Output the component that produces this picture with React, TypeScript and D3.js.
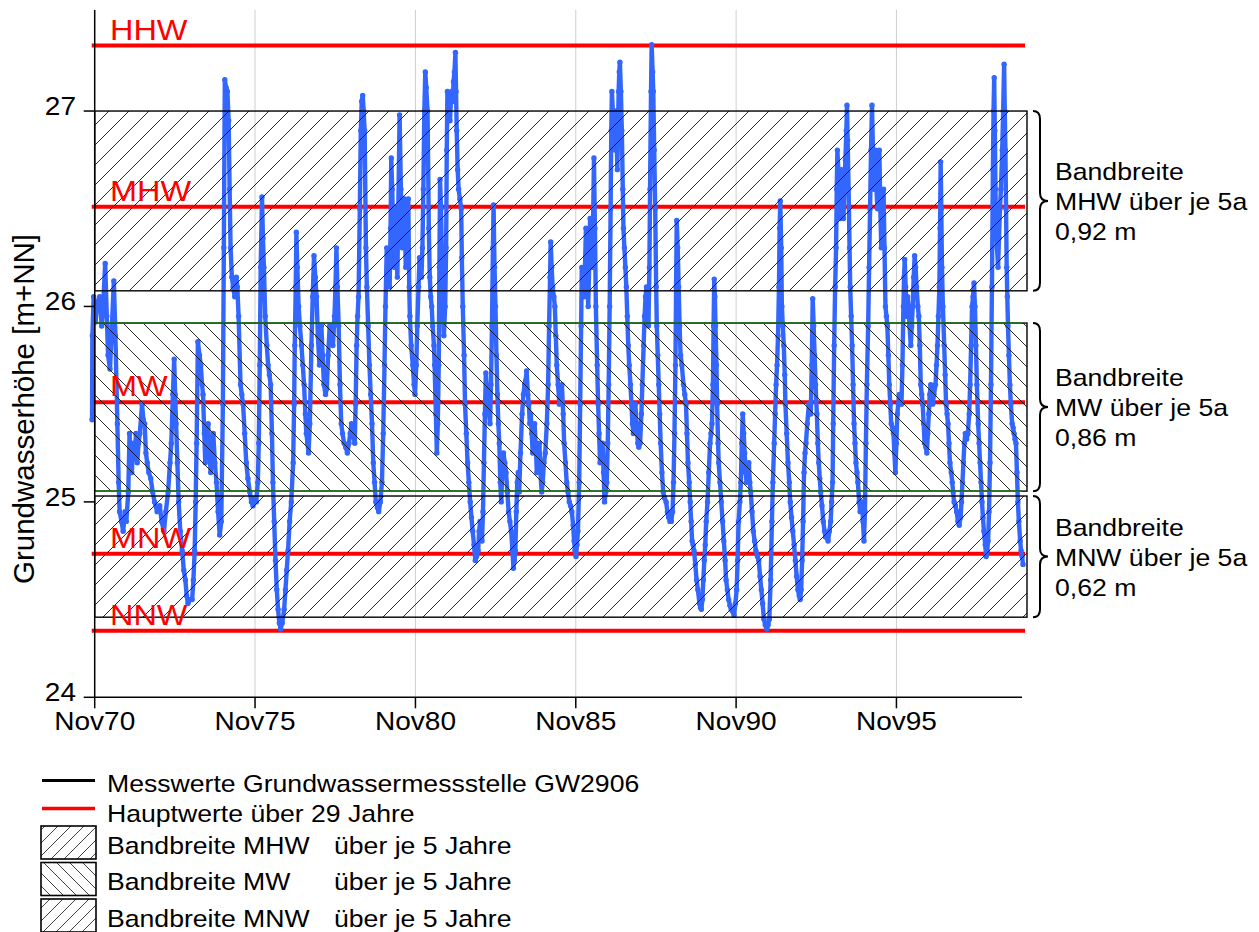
import React from 'react';
import * as d3 from 'd3';

// ---------- data ----------
const yTickValues = [24, 25, 26, 27];
const xTickYears = [1970, 1975, 1980, 1985, 1990, 1995];
const domainStart = [1970, 10, 1];
const domainEnd = [1999, 9, 1];
const yDomain = [24, 27.517];

const mainValueNames = ['HHW', 'MHW', 'MW', 'MNW', 'NNW'];
const mainValueLevels = [27.335, 26.51, 25.51, 24.735, 24.34];

const bandNames = ['MHW', 'MW', 'MNW'];
const bandLow = [26.08, 25.055, 24.41];
const bandHigh = [27.0, 25.915, 25.03];
const bandWidthLabels = ['0,92 m', '0,86 m', '0,62 m'];

const legendLineLabels = ['Messwerte Grundwassermessstelle GW2906', 'Hauptwerte über 29 Jahre'];
const legendBandLabels = ['Bandbreite MHW', 'Bandbreite MW', 'Bandbreite MNW'];
const legendBandSuffix = 'über je 5 Jahre';
const yTitle = 'Grundwasserhöhe [m+NN]';

// measurements GW2906: [decimal year, level m+NN]
const gw1970s: [number, number][] = [
  [1970.75,25.42],[1970.76,25.85],[1970.80,26.05],[1970.86,25.92],[1970.91,26.02],[1970.99,26.05],[1971.05,25.9],[1971.09,25.98],[1971.16,26.22],[1971.21,25.95],[1971.25,25.75],[1971.31,25.68],[1971.37,25.9],[1971.43,26.13],[1971.48,25.85],[1971.54,25.4],[1971.58,25.1],[1971.61,24.95],[1971.67,24.9],[1971.72,24.85],[1971.78,24.95],[1971.82,24.9],[1971.88,25.05],[1971.92,25.35],[1971.96,25.2],[1971.99,25.15],
  [1972.04,25.3],[1972.08,25.22],[1972.12,25.35],[1972.16,25.2],[1972.20,25.3],[1972.24,25.35],[1972.31,25.5],[1972.35,25.42],[1972.39,25.4],[1972.43,25.25],[1972.47,25.2],[1972.52,25.15],[1972.58,25.12],[1972.64,25.05],[1972.70,25.0],[1972.78,24.95],[1972.86,24.98],[1972.92,24.9],[1972.99,24.85],
  [1973.05,24.95],[1973.12,25.05],[1973.18,25.2],[1973.22,25.3],[1973.27,25.55],[1973.31,25.73],[1973.34,25.55],[1973.37,25.4],[1973.41,25.2],[1973.45,25.0],[1973.50,24.85],[1973.56,24.75],[1973.61,24.65],[1973.66,24.6],[1973.70,24.52],[1973.74,24.48],[1973.80,24.5],[1973.87,24.5],[1973.91,24.6],[1973.95,24.75],[1973.98,25.0],
  [1974.01,25.3],[1974.05,25.82],[1974.10,25.75],[1974.14,25.7],[1974.18,25.6],[1974.21,25.55],[1974.25,25.35],[1974.28,25.2],[1974.32,25.35],[1974.37,25.4],[1974.41,25.25],[1974.45,25.15],[1974.49,25.3],[1974.53,25.35],[1974.58,25.2],[1974.63,25.1],[1974.68,24.95],[1974.73,24.83],[1974.78,24.9],[1974.83,25.5],[1974.86,26.3],[1974.89,27.16],[1974.93,27.12],[1974.97,27.1],
  [1975.01,26.95],[1975.04,26.6],[1975.07,26.3],[1975.11,26.15],[1975.15,26.1],[1975.20,26.05],[1975.25,26.15],[1975.28,26.1],[1975.32,25.95],[1975.38,25.6],[1975.42,25.55],[1975.46,25.5],[1975.51,25.35],[1975.56,25.2],[1975.61,25.12],[1975.67,25.05],[1975.72,25.0],[1975.77,24.98],[1975.82,25.02],[1975.87,25.0],[1975.92,25.1],[1975.95,25.3],[1975.98,25.7],
  [1976.01,26.2],[1976.05,26.56],[1976.08,26.35],[1976.11,26.2],[1976.15,25.95],[1976.20,25.8],[1976.24,25.7],[1976.28,25.65],[1976.32,25.6],[1976.36,25.35],[1976.39,25.1],[1976.43,24.9],[1976.47,24.7],[1976.51,24.55],[1976.55,24.45],[1976.59,24.38],[1976.63,24.35],[1976.68,24.38],[1976.74,24.45],[1976.78,24.55],[1976.82,24.65],[1976.86,24.75],[1976.91,24.9],[1976.96,25.0],
  [1977.02,25.2],[1977.05,25.5],[1977.07,25.8],[1977.10,26.1],[1977.12,26.38],[1977.15,26.2],[1977.19,26.0],[1977.23,25.9],[1977.28,25.8],[1977.32,25.7],[1977.36,25.6],[1977.40,25.45],[1977.43,25.35],[1977.47,25.3],[1977.50,25.25],[1977.54,25.4],[1977.59,25.8],[1977.63,26.05],[1977.67,26.26],[1977.71,26.15],[1977.75,26.05],[1977.79,25.85],[1977.84,25.7],[1977.87,25.8],[1977.90,25.9],[1977.94,25.75],[1977.98,25.6],
  [1978.03,25.55],[1978.07,25.58],[1978.11,25.75],[1978.16,25.9],[1978.21,25.85],[1978.26,25.8],[1978.31,25.95],[1978.34,26.1],[1978.37,26.3],[1978.40,26.1],[1978.44,25.9],[1978.48,25.6],[1978.52,25.4],[1978.56,25.35],[1978.61,25.3],[1978.66,25.28],[1978.71,25.25],[1978.76,25.3],[1978.80,25.35],[1978.84,25.4],[1978.89,25.35],[1978.94,25.3],[1978.97,25.5],
  [1979.00,25.8],[1979.03,25.95],[1979.06,26.05],[1979.10,26.5],[1979.13,26.9],[1979.16,27.05],[1979.19,27.08],[1979.22,27.0],[1979.25,26.9],[1979.29,26.3],[1979.32,26.1],[1979.36,25.9],[1979.40,25.7],[1979.44,25.55],[1979.48,25.4],[1979.52,25.2],[1979.56,25.1],[1979.60,25.0],[1979.65,24.97],[1979.69,24.95],[1979.74,25.0],[1979.79,25.1],[1979.83,25.35],[1979.87,25.7],[1979.90,26.0],[1979.94,26.3],[1979.98,26.15],
];

const gw1980s: [number, number][] = [
  [1980.03,26.1],[1980.06,26.4],[1980.08,26.76],[1980.11,26.6],[1980.14,26.4],[1980.17,26.2],[1980.21,26.5],[1980.24,26.35],[1980.27,26.15],[1980.30,26.5],[1980.34,26.98],[1980.38,26.6],[1980.42,26.3],[1980.46,26.45],[1980.50,26.55],[1980.53,26.2],[1980.57,26.35],[1980.61,26.55],[1980.64,26.1],[1980.66,25.95],[1980.70,25.8],[1980.75,25.7],[1980.79,25.6],[1980.82,25.55],[1980.86,25.7],[1980.89,25.9],[1980.93,26.1],[1980.96,26.25],
  [1981.00,26.2],[1981.02,26.15],[1981.05,26.3],[1981.08,26.6],[1981.11,27.0],[1981.14,27.2],[1981.17,27.12],[1981.21,27.0],[1981.25,26.4],[1981.28,26.15],[1981.31,26.05],[1981.34,26.0],[1981.37,25.9],[1981.41,25.8],[1981.43,25.7],[1981.47,25.45],[1981.50,25.25],[1981.53,25.4],[1981.56,25.7],[1981.58,26.2],[1981.60,26.65],[1981.63,26.5],[1981.66,26.25],[1981.69,26.0],[1981.72,25.85],[1981.76,26.0],[1981.79,26.3],[1981.81,26.8],[1981.83,27.1],[1981.87,27.0],[1981.91,26.95],[1981.94,27.05],[1981.96,27.1],
  [1982.00,27.05],[1982.02,27.15],[1982.05,27.2],[1982.08,27.3],[1982.10,27.1],[1982.12,26.9],[1982.15,26.7],[1982.18,26.6],[1982.22,26.55],[1982.26,26.5],[1982.28,26.25],[1982.31,26.0],[1982.35,25.75],[1982.38,25.5],[1982.42,25.35],[1982.46,25.2],[1982.50,25.1],[1982.54,25.0],[1982.58,24.92],[1982.62,24.85],[1982.66,24.78],[1982.70,24.7],[1982.74,24.72],[1982.79,24.75],[1982.82,24.85],[1982.85,24.9],[1982.88,24.85],[1982.91,24.8],[1982.94,24.95],[1982.97,25.2],
  [1983.00,25.45],[1983.03,25.66],[1983.07,25.55],[1983.10,25.5],[1983.13,25.45],[1983.16,25.4],[1983.19,25.6],[1983.22,25.9],[1983.25,26.3],[1983.27,26.52],[1983.30,26.2],[1983.33,26.0],[1983.36,25.75],[1983.39,25.55],[1983.42,25.4],[1983.45,25.3],[1983.48,25.1],[1983.51,25.0],[1983.54,25.15],[1983.58,25.25],[1983.62,25.2],[1983.66,25.15],[1983.70,25.05],[1983.74,24.95],[1983.78,24.9],[1983.82,24.85],[1983.86,24.75],[1983.89,24.66],[1983.92,24.7],[1983.95,24.75],[1983.98,24.95],
  [1984.01,25.1],[1984.04,25.15],[1984.07,25.05],[1984.11,25.25],[1984.16,25.45],[1984.20,25.55],[1984.24,25.6],[1984.27,25.62],[1984.30,25.67],[1984.34,25.55],[1984.37,25.5],[1984.40,25.4],[1984.43,25.45],[1984.46,25.35],[1984.49,25.25],[1984.52,25.3],[1984.55,25.4],[1984.58,25.3],[1984.62,25.15],[1984.66,25.2],[1984.70,25.3],[1984.73,25.15],[1984.77,25.05],[1984.80,25.1],[1984.84,25.2],[1984.88,25.25],[1984.93,25.4],[1984.97,25.6],
  [1985.00,25.9],[1985.03,26.15],[1985.05,26.33],[1985.08,26.2],[1985.11,26.1],[1985.15,26.05],[1985.18,26.0],[1985.21,25.85],[1985.24,25.7],[1985.28,25.6],[1985.32,25.5],[1985.36,25.55],[1985.40,25.6],[1985.44,25.45],[1985.47,25.3],[1985.51,25.2],[1985.55,25.1],[1985.59,25.05],[1985.63,25.0],[1985.67,24.98],[1985.71,24.95],[1985.75,24.88],[1985.78,24.8],[1985.81,24.75],[1985.84,24.72],[1985.87,24.78],[1985.90,24.85],[1985.94,25.1],[1985.97,25.5],
  [1986.00,25.9],[1986.02,26.2],[1986.06,26.1],[1986.09,26.05],[1986.12,26.2],[1986.15,26.4],[1986.18,26.2],[1986.22,26.0],[1986.25,26.2],[1986.28,26.45],[1986.31,26.3],[1986.34,26.2],[1986.37,26.4],[1986.40,26.76],[1986.43,26.4],[1986.46,26.0],[1986.50,25.7],[1986.53,25.5],[1986.56,25.35],[1986.59,25.2],[1986.63,25.25],[1986.67,25.3],[1986.70,25.15],[1986.73,25.0],[1986.77,25.05],[1986.80,25.1],[1986.83,25.3],[1986.86,25.6],[1986.89,26.0],[1986.92,26.5],[1986.94,26.9],[1986.96,27.1],[1986.99,27.0],
  [1987.03,26.9],[1987.06,26.8],[1987.09,27.0],[1987.11,26.85],[1987.13,26.7],[1987.15,26.9],[1987.17,27.1],[1987.19,27.2],[1987.21,27.25],[1987.24,27.1],[1987.27,26.9],[1987.30,26.6],[1987.32,26.4],[1987.35,26.3],[1987.38,26.2],[1987.41,26.1],[1987.44,25.95],[1987.47,25.8],[1987.50,25.7],[1987.54,25.6],[1987.57,25.5],[1987.60,25.4],[1987.63,25.35],[1987.66,25.45],[1987.69,25.5],[1987.73,25.4],[1987.77,25.3],[1987.80,25.28],[1987.84,25.3],[1987.88,25.45],[1987.91,25.6],[1987.95,25.8],[1987.98,25.95],
  [1988.01,26.05],[1988.04,26.1],[1988.07,26.0],[1988.10,25.9],[1988.13,26.2],[1988.15,26.6],[1988.18,27.1],[1988.20,27.34],[1988.23,27.2],[1988.25,27.1],[1988.28,26.8],[1988.31,26.5],[1988.34,26.1],[1988.36,25.9],[1988.39,25.75],[1988.42,25.6],[1988.45,25.45],[1988.48,25.3],[1988.52,25.15],[1988.56,25.05],[1988.60,25.02],[1988.65,25.0],[1988.69,24.95],[1988.73,24.92],[1988.77,24.9],[1988.81,24.9],[1988.85,24.95],[1988.88,25.1],[1988.91,25.35],[1988.94,25.7],[1988.96,26.1],[1988.98,26.44],
  [1989.01,26.3],[1989.04,26.1],[1989.07,25.9],[1989.10,25.75],[1989.14,25.7],[1989.19,25.6],[1989.23,25.55],[1989.27,25.5],[1989.30,25.35],[1989.33,25.2],[1989.37,25.1],[1989.40,25.0],[1989.43,24.9],[1989.46,24.8],[1989.49,24.78],[1989.52,24.75],[1989.56,24.68],[1989.60,24.6],[1989.64,24.55],[1989.69,24.48],[1989.72,24.46],[1989.75,24.45],[1989.78,24.5],[1989.81,24.6],[1989.84,24.7],[1989.87,24.78],[1989.90,24.9],[1989.94,25.0],[1989.98,25.15],
];

const gw1990s: [number, number][] = [
  [1990.02,25.3],[1990.05,25.35],[1990.08,25.4],[1990.11,25.6],[1990.13,25.9],[1990.15,26.14],[1990.17,26.05],[1990.19,25.9],[1990.22,25.7],[1990.24,25.5],[1990.27,25.3],[1990.29,25.2],[1990.33,25.1],[1990.37,25.0],[1990.41,24.9],[1990.45,24.8],[1990.49,24.7],[1990.52,24.6],[1990.56,24.55],[1990.60,24.5],[1990.64,24.47],[1990.68,24.45],[1990.72,24.44],[1990.77,24.42],[1990.81,24.48],[1990.85,24.55],[1990.88,24.7],[1990.91,24.9],[1990.95,25.0],[1990.98,25.1],
  [1991.01,25.3],[1991.04,25.45],[1991.07,25.35],[1991.10,25.25],[1991.13,25.15],[1991.16,25.1],[1991.20,25.15],[1991.23,25.2],[1991.26,25.1],[1991.29,25.05],[1991.33,24.95],[1991.37,24.85],[1991.41,24.8],[1991.45,24.75],[1991.50,24.72],[1991.54,24.7],[1991.58,24.62],[1991.62,24.55],[1991.66,24.48],[1991.70,24.4],[1991.74,24.37],[1991.79,24.35],[1991.83,24.37],[1991.87,24.4],[1991.91,24.6],[1991.95,24.9],[1991.98,25.1],
  [1992.02,25.3],[1992.05,25.45],[1992.08,25.6],[1992.11,25.7],[1992.14,25.85],[1992.17,26.1],[1992.19,26.4],[1992.21,26.54],[1992.24,26.3],[1992.26,26.0],[1992.29,25.9],[1992.32,25.8],[1992.35,25.65],[1992.37,25.5],[1992.41,25.35],[1992.45,25.2],[1992.49,25.1],[1992.52,25.0],[1992.56,24.92],[1992.60,24.85],[1992.64,24.78],[1992.68,24.7],[1992.72,24.62],[1992.76,24.55],[1992.80,24.52],[1992.83,24.5],[1992.86,24.55],[1992.89,24.7],[1992.92,24.9],[1992.95,25.15],[1992.98,25.25],
  [1993.01,25.3],[1993.05,25.4],[1993.10,25.5],[1993.13,25.48],[1993.16,25.45],[1993.19,25.7],[1993.22,26.04],[1993.25,25.9],[1993.28,25.75],[1993.31,25.6],[1993.35,25.45],[1993.38,25.3],[1993.41,25.2],[1993.44,25.12],[1993.47,25.05],[1993.51,24.98],[1993.55,24.9],[1993.59,24.85],[1993.62,24.82],[1993.66,24.82],[1993.70,24.8],[1993.74,24.85],[1993.78,24.9],[1993.81,25.0],[1993.84,25.1],[1993.86,25.4],[1993.89,25.8],[1993.92,26.1],[1993.95,26.3],[1993.97,26.6],[1993.99,26.8],
  [1994.02,26.7],[1994.05,26.6],[1994.08,26.45],[1994.10,26.6],[1994.12,26.7],[1994.15,26.55],[1994.18,26.45],[1994.21,26.6],[1994.24,26.75],[1994.27,26.9],[1994.29,27.03],[1994.31,26.85],[1994.34,26.6],[1994.37,26.3],[1994.39,26.1],[1994.42,25.95],[1994.45,25.8],[1994.48,25.6],[1994.51,25.4],[1994.54,25.3],[1994.57,25.2],[1994.60,25.15],[1994.63,25.1],[1994.67,25.0],[1994.70,24.95],[1994.73,24.98],[1994.76,25.0],[1994.79,24.9],[1994.82,24.8],[1994.85,24.95],[1994.88,25.3],[1994.91,25.6],[1994.95,25.9],[1994.98,26.2],
  [1995.01,26.5],[1995.04,26.8],[1995.07,27.03],[1995.10,26.8],[1995.13,26.6],[1995.16,26.7],[1995.18,26.8],[1995.21,26.6],[1995.24,26.5],[1995.27,26.65],[1995.30,26.8],[1995.33,26.5],[1995.36,26.3],[1995.40,26.45],[1995.43,26.6],[1995.46,26.3],[1995.49,26.0],[1995.52,25.95],[1995.55,25.9],[1995.58,25.75],[1995.61,25.6],[1995.64,25.5],[1995.67,25.4],[1995.71,25.38],[1995.74,25.35],[1995.77,25.25],[1995.80,25.15],[1995.83,25.3],[1995.86,25.45],[1995.89,25.5],[1995.92,25.55],[1995.96,25.52],[1995.99,25.5],
  [1996.02,25.7],[1996.05,26.0],[1996.07,26.15],[1996.09,26.24],[1996.12,26.1],[1996.15,25.95],[1996.18,26.05],[1996.21,26.0],[1996.24,25.9],[1996.28,25.8],[1996.31,25.9],[1996.34,26.0],[1996.37,26.15],[1996.40,26.26],[1996.43,26.2],[1996.46,26.1],[1996.50,26.0],[1996.53,25.95],[1996.56,25.8],[1996.59,25.6],[1996.62,25.55],[1996.65,25.5],[1996.68,25.4],[1996.71,25.3],[1996.75,25.28],[1996.78,25.25],[1996.81,25.35],[1996.84,25.45],[1996.87,25.55],[1996.90,25.6],[1996.93,25.55],[1996.96,25.5],
  [1997.00,25.55],[1997.05,25.6],[1997.08,25.7],[1997.11,25.8],[1997.14,25.95],[1997.17,26.1],[1997.19,26.4],[1997.21,26.74],[1997.23,26.5],[1997.25,26.2],[1997.28,26.0],[1997.32,25.8],[1997.35,25.65],[1997.38,25.5],[1997.41,25.45],[1997.44,25.4],[1997.47,25.3],[1997.50,25.2],[1997.54,25.15],[1997.57,25.1],[1997.60,25.05],[1997.63,25.0],[1997.67,24.98],[1997.71,24.95],[1997.75,24.9],[1997.79,24.88],[1997.83,24.92],[1997.86,25.0],[1997.89,25.1],[1997.92,25.2],[1997.95,25.3],[1997.98,25.35],
  [1998.02,25.32],[1998.06,25.35],[1998.10,25.45],[1998.13,25.6],[1998.16,25.8],[1998.19,26.0],[1998.22,26.05],[1998.25,26.12],[1998.28,26.0],[1998.31,25.8],[1998.34,25.6],[1998.38,25.4],[1998.41,25.3],[1998.44,25.2],[1998.47,25.1],[1998.50,25.0],[1998.53,24.92],[1998.56,24.85],[1998.60,24.78],[1998.63,24.72],[1998.66,24.75],[1998.69,24.8],[1998.72,24.95],[1998.75,25.2],[1998.78,25.6],[1998.81,26.1],[1998.84,26.7],[1998.86,27.0],[1998.88,27.17],[1998.90,26.9],[1998.92,26.6],[1998.94,26.4],[1998.97,26.3],
  [1999.00,26.2],[1999.03,26.35],[1999.06,26.5],[1999.09,26.6],[1999.13,26.8],[1999.16,27.0],[1999.19,27.24],[1999.21,27.0],[1999.23,26.8],[1999.25,26.5],[1999.27,26.2],[1999.29,26.05],[1999.31,25.9],[1999.34,25.75],[1999.37,25.6],[1999.40,25.5],[1999.44,25.4],[1999.47,25.38],[1999.50,25.35],[1999.53,25.32],[1999.56,25.3],[1999.59,25.15],[1999.62,25.0],[1999.65,24.9],[1999.69,24.8],[1999.72,24.75],[1999.75,24.72],[1999.78,24.68],
];

// ---------- helpers ----------
const FONT = "'Liberation Sans', Arial, Helvetica, sans-serif";

function yearToDate(y: number): Date {
  const yr = Math.floor(y);
  const a = new Date(yr, 0, 1).getTime();
  const b = new Date(yr + 1, 0, 1).getTime();
  return new Date(a + (y - yr) * (b - a));
}

function SText(props: { x: number; y: number; size: number; anchor?: string; fill?: string; children: React.ReactNode }) {
  const { x, y, size, anchor = 'start', fill = '#000', children } = props;
  return (
    <text transform={`translate(${x},${y}) scale(1.1,1)`} fontSize={size} textAnchor={anchor as any} fill={fill} fontFamily={FONT}>
      {children}
    </text>
  );
}

function bracePath(x0: number, y1: number, y2: number): string {
  const xm = x0 + 7;
  const xt = x0 + 15;
  const ym = (y1 + y2) / 2;
  return [
    `M${x0},${y1}`,
    `Q${xm},${y1} ${xm},${y1 + 8}`,
    `L${xm},${ym - 8}`,
    `Q${xm},${ym} ${xt},${ym}`,
    `Q${xm},${ym} ${xm},${ym + 8}`,
    `L${xm},${y2 - 8}`,
    `Q${xm},${y2} ${x0},${y2}`,
  ].join(' ');
}

export default function App() {
  const width = 1259;
  const height = 932;
  const x0 = 94.7;
  const x1 = 1022;
  const yTop = 10;
  const yBottom = 697.3;

  const xScale = d3
    .scaleTime()
    .domain([new Date(domainStart[0], domainStart[1], domainStart[2]), new Date(domainEnd[0], domainEnd[1], domainEnd[2])])
    .range([x0, x1]);
  const yScale = d3.scaleLinear().domain(yDomain).range([yBottom, yTop]);

  const series = [...gw1970s, ...gw1980s, ...gw1990s];
  const line = d3
    .line<[number, number]>()
    .x((d) => xScale(yearToDate(d[0])))
    .y((d) => yScale(d[1]));

  const xTicks = xTickYears.map((y) => new Date(y, 10, 1));
  const fmt = d3.timeFormat('%b%y');

  const blue = '#3366ff';
  const red = '#ff0000';
  const bandRight = x1 + 5;
  const hatchIds = ['hatchFwd', 'hatchBack', 'hatchFwd'];
  const legendHatchIds = ['lhatchFwd', 'lhatchBack', 'lhatchFwd'];
  const labelSize = 24.2;

  return (
    <svg width={width} height={height} style={{ position: 'absolute', left: 0, top: 0, background: '#fff' }}>
      <defs>
        <pattern id="hatchFwd" patternUnits="userSpaceOnUse" width={20} height={20}>
          <path d="M-5,5 L5,-5 M0,20 L20,0 M15,25 L25,15" stroke="#111" strokeWidth={0.9} />
        </pattern>
        <pattern id="hatchBack" patternUnits="userSpaceOnUse" width={20} height={20}>
          <path d="M-5,15 L5,25 M0,0 L20,20 M15,-5 L25,5" stroke="#111" strokeWidth={0.9} />
        </pattern>
        <pattern id="lhatchFwd" patternUnits="userSpaceOnUse" width={13} height={13}>
          <path d="M-3,3 L3,-3 M0,13 L13,0 M10,16 L16,10" stroke="#111" strokeWidth={0.8} />
        </pattern>
        <pattern id="lhatchBack" patternUnits="userSpaceOnUse" width={13} height={13}>
          <path d="M-3,10 L3,16 M0,0 L13,13 M10,-3 L16,3" stroke="#111" strokeWidth={0.8} />
        </pattern>
      </defs>
      <rect x={0} y={0} width={width} height={height} fill="#fff" />

      {/* vertical gridlines */}
      {xTicks.slice(1).map((t, i) => (
        <line key={`g${i}`} x1={xScale(t)} x2={xScale(t)} y1={yTop} y2={yBottom} stroke="#cfcfcf" strokeWidth={1} />
      ))}

      {/* main values (red lines) */}
      {mainValueLevels.map((v, i) => (
        <line key={`r${i}`} x1={x0 - 3} x2={x1 + 3} y1={yScale(v)} y2={yScale(v)} stroke={red} strokeWidth={4} />
      ))}

      {/* measurements */}
      <path d={line(series) || ''} fill="none" stroke={blue} strokeWidth={4.4} strokeLinejoin="round" strokeLinecap="round" />
      {series.map((d, i) => (
        <circle key={`p${i}`} cx={xScale(yearToDate(d[0]))} cy={yScale(d[1])} r={2.7} fill={blue} />
      ))}

      {/* bands */}
      {bandNames.map((n, i) => {
        const yt = yScale(bandHigh[i]);
        const yb = yScale(bandLow[i]);
        return (
          <g key={`b${i}`}>
            <rect x={x0} y={yt} width={bandRight - x0} height={yb - yt} fill={`url(#${hatchIds[i]})`} stroke="#000" strokeWidth={1.4} />
            {i === 1 && (
              <g>
                <line x1={x0} x2={x1} y1={yt} y2={yt} stroke="#1d7a1d" strokeWidth={1.6} />
                <line x1={x0} x2={x1} y1={yb} y2={yb} stroke="#1d7a1d" strokeWidth={1.6} />
              </g>
            )}
          </g>
        );
      })}

      {/* red labels */}
      {mainValueNames.map((n, i) => (
        <SText key={`rl${i}`} x={110} y={yScale(mainValueLevels[i]) - 6} size={29.5} fill={red}>
          {n}
        </SText>
      ))}

      {/* braces and annotations */}
      {bandNames.map((n, i) => {
        const yt = yScale(bandHigh[i]);
        const yb = yScale(bandLow[i]);
        const ym = (yt + yb) / 2;
        return (
          <g key={`a${i}`}>
            <path d={bracePath(1033, yt, yb)} fill="none" stroke="#000" strokeWidth={2} />
            <SText x={1055} y={ym - 21} size={labelSize}>Bandbreite</SText>
            <SText x={1055} y={ym + 9} size={labelSize}>{`${n} über je 5a`}</SText>
            <SText x={1055} y={ym + 39} size={labelSize}>{bandWidthLabels[i]}</SText>
          </g>
        );
      })}

      {/* axes */}
      <line x1={x0} x2={x0} y1={yTop} y2={yBottom} stroke="#000" strokeWidth={1.5} />
      <line x1={x0} x2={x1} y1={yBottom} y2={yBottom} stroke="#000" strokeWidth={1.5} />
      {yTickValues.map((v) => (
        <g key={`yt${v}`}>
          <line x1={x0 - 11} x2={x0} y1={yScale(v)} y2={yScale(v)} stroke="#000" strokeWidth={1.5} />
          <SText x={76} y={yScale(v) + 4} size={25.5} anchor="end">{String(v)}</SText>
        </g>
      ))}
      {xTicks.map((t, i) => (
        <g key={`xt${i}`}>
          <line x1={xScale(t)} x2={xScale(t)} y1={yBottom} y2={yBottom + 11} stroke="#000" strokeWidth={1.5} />
          <SText x={xScale(t)} y={730} size={25.5} anchor="middle">{fmt(t)}</SText>
        </g>
      ))}
      <text transform="translate(34,409) rotate(-90)" fontSize={29.5} textAnchor="middle" fontFamily={FONT} fill="#000">
        {yTitle}
      </text>

      {/* legend */}
      <line x1={42} x2={95} y1={780.5} y2={780.5} stroke="#000" strokeWidth={3.2} />
      <SText x={107} y={791.5} size={labelSize}>{legendLineLabels[0]}</SText>
      <line x1={42} x2={95} y1={808.5} y2={808.5} stroke={red} strokeWidth={3.6} />
      <SText x={107} y={821.5} size={labelSize}>{legendLineLabels[1]}</SText>
      {legendBandLabels.map((lab, i) => {
        const top = 826 + i * 36.5;
        return (
          <g key={`lg${i}`}>
            <rect x={41} y={top} width={55} height={33} fill={`url(#${legendHatchIds[i]})`} stroke="#000" strokeWidth={1.6} />
            <SText x={107} y={top + 27.5} size={labelSize}>{lab}</SText>
            <SText x={334} y={top + 27.5} size={labelSize}>{legendBandSuffix}</SText>
          </g>
        );
      })}
    </svg>
  );
}
